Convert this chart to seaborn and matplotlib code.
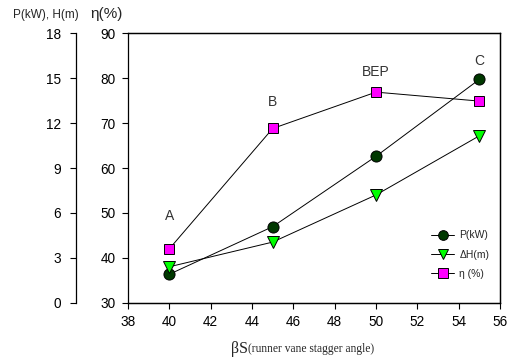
import matplotlib
matplotlib.use("Agg")
import matplotlib.pyplot as plt
import seaborn as sns
import numpy as np

# data
angles = [40, 45, 50, 55]
power_kw = [1.9, 5.08, 9.78, 14.92]
head_m = [2.4, 4.05, 7.2, 11.15]
eff_pct = [42.0, 68.8, 76.9, 74.9]
point_labels = ["A", "B", "BEP", "C"]
label_y = [49.2, 74.8, 81.4, 83.9]
label_x = [40, 45, 50, 55]
x_ticks = list(range(38, 57, 2))
eff_ticks = list(range(30, 91, 10))
ph_ticks = list(range(0, 19, 3))

sns.set_style("ticks")
plt.rcParams['font.family'] = ['Liberation Sans', 'DejaVu Sans']

fig = plt.figure(figsize=(5.15, 3.6), dpi=100)
ax = fig.add_axes([128/515, 1-302.7/360, 372/515, 269.4/360])
ax2 = ax.twinx()

lw = 0.7
sns.lineplot(x=angles, y=eff_pct, ax=ax, color='black', linewidth=lw,
             marker='s', markersize=7, markerfacecolor='#ff00ff',
             markeredgecolor='black', markeredgewidth=0.7, label='η (%)', legend=False)
sns.lineplot(x=angles, y=power_kw, ax=ax2, color='black', linewidth=lw,
             marker='o', markersize=8, markerfacecolor='#003800',
             markeredgecolor='black', markeredgewidth=0.7, label='P(kW)', legend=False)
sns.lineplot(x=angles, y=head_m, ax=ax2, color='black', linewidth=lw,
             marker='v', markersize=8, markerfacecolor='#00ff00',
             markeredgecolor='black', markeredgewidth=0.7, label='ΔH(m)', legend=False)

ax.set_xlim(38, 56)
ax.set_ylim(30, 90)
ax2.set_ylim(0, 18)
ax.set_xticks(x_ticks)
ax.set_yticks(eff_ticks)
ax2.set_yticks(ph_ticks)

for sp in ax.spines.values():
    sp.set_linewidth(0.9)
    sp.set_color('black')
for name, sp in ax2.spines.items():
    sp.set_linewidth(0.9)
    sp.set_color('black')
ax2.spines['left'].set_position(('axes', (76-128)/372))
ax2.spines['left'].set_visible(True)
ax2.spines['right'].set_visible(True)
ax2.yaxis.set_ticks_position('left')
ax2.yaxis.set_label_position('left')
ax.spines['right'].set_visible(True)
ax.spines['top'].set_visible(True)

ax.tick_params(axis='x', direction='out', length=4, width=0.8, labelsize=9.8, pad=5, colors='black')
ax.tick_params(axis='y', direction='out', length=4, width=0.8, labelsize=9.8, pad=5, colors='black')
ax2.tick_params(axis='y', direction='out', length=4, width=0.8, labelsize=9.8, pad=7, colors='black')
ax.set_xlabel("")
ax.set_ylabel("")
ax2.set_ylabel("")

for lx, ly, t in zip(label_x, label_y, point_labels):
    ax.text(lx, ly, t, ha='center', va='center', fontsize=10, color='#333333')

fig.text(13/515, 1-15/360, "P(kW), H(m)", fontsize=8.5, ha='left', va='center')
fig.text(90/515, 1-14/360, "η(%)", fontsize=11, ha='left', va='center')

fig.text(248/515, 1-349/360, "βS", fontsize=11.5, ha='right', va='center', family='Liberation Serif')
fig.text(248/515, 1-349/360, "(runner vane stagger angle)", fontsize=8.3, ha='left', va='center', family='Liberation Serif')

h1, l1 = ax2.get_legend_handles_labels()
h2, l2 = ax.get_legend_handles_labels()
leg = ax2.legend(h1 + h2, l1 + l2, loc='upper left', bbox_to_anchor=(426/515, 1-225/360),
                 bbox_transform=fig.transFigure, frameon=False, fontsize=7.5,
                 labelspacing=0.9, handlelength=2.2, handletextpad=0.5, borderpad=0)
for h in leg.legend_handles:
    h.set_markersize(7)

fig.savefig("out.png", dpi=100)
